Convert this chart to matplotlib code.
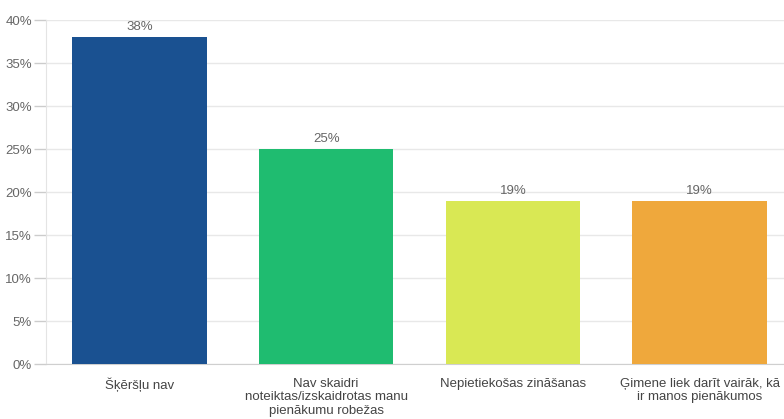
import matplotlib.pyplot as plt
import numpy as np

plt.rcParams['font.family'] = ['Liberation Sans', 'DejaVu Sans']

# chart data
categories = [
    'Šķēršļu nav',
    'Nav skaidri\nnoteiktas/izskaidrotas manu\npienākumu robežas',
    'Nepietiekošas zināšanas',
    'Ģimene liek darīt vairāk, kā\nir manos pienākumos',
]
values = [38, 25, 19, 19]
bar_colors = ['#1a5191', '#1fbc70', '#d9e854', '#efa83c']
y_ticks = [0, 5, 10, 15, 20, 25, 30, 35, 40]

W, H = 784, 419
fig = plt.figure(figsize=(W / 100, H / 100), dpi=100)
# plot area runs past the right edge in the original
ax = fig.add_axes([46 / W, (H - 364) / H, 747 / W, 344 / H])

x = np.arange(len(categories))
bars = ax.bar(x, values, width=0.72, color=bar_colors, zorder=3)

for b, v in zip(bars, values):
    ax.text(b.get_x() + b.get_width() / 2, v + 0.45, f'{v}%',
            ha='center', va='bottom', fontsize=9.5, color='#666666', zorder=4)

ax.set_xlim(-0.5, len(categories) - 0.5)
ax.set_ylim(0, 40)
ax.set_yticks(y_ticks)
ax.set_yticklabels([f'{t}%' for t in y_ticks])
ax.set_xticks(x)
ax.set_xticklabels(categories, fontsize=9.5, color='#444444', linespacing=1.15)

ax.grid(axis='y', color='#e8e8e8', linewidth=1, zorder=0)
ax.tick_params(axis='y', colors='#cccccc', labelcolor='#666666', labelsize=9.5,
               length=9, width=1, pad=1)
ax.tick_params(axis='x', length=0, pad=10)

for side in ['top', 'right']:
    ax.spines[side].set_visible(False)
ax.spines['left'].set_color('#e4e4e4')
ax.spines['bottom'].set_color('#cfcfcf')

fig.savefig('out.png', dpi=100)
